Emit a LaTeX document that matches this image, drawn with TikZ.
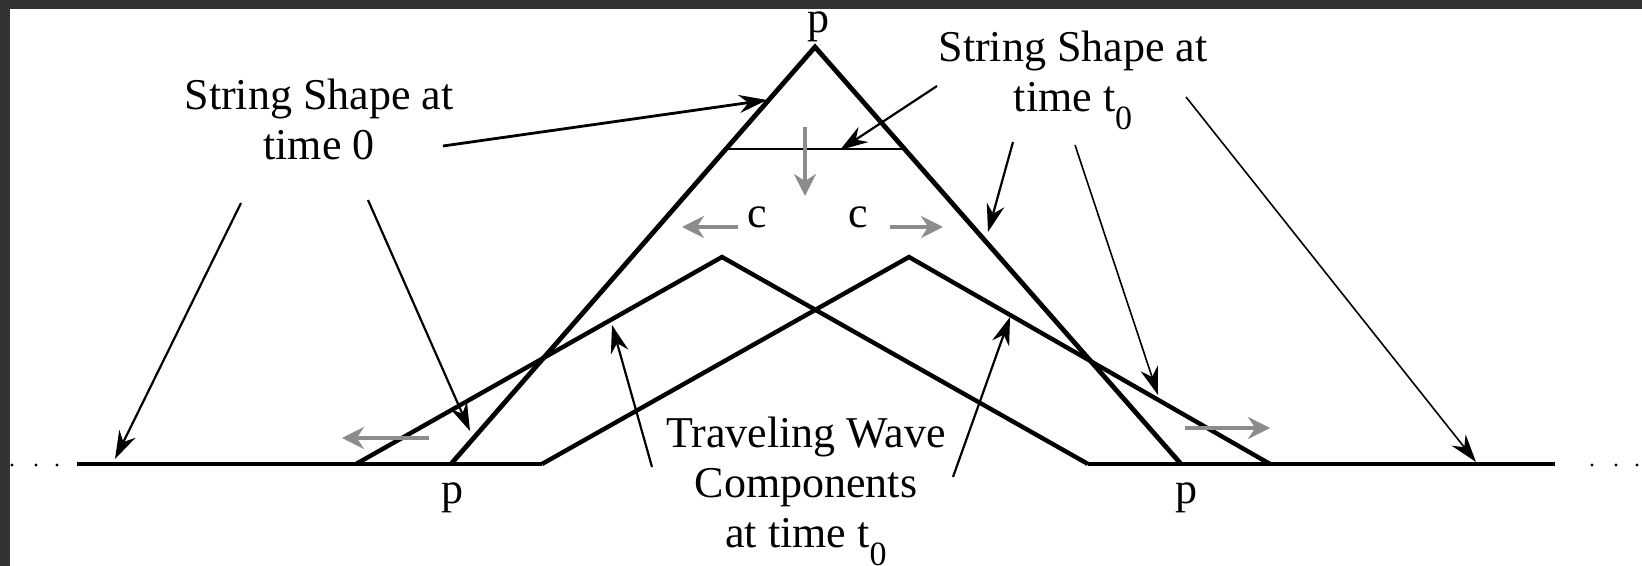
\documentclass[tikz,border=0pt]{standalone}
\usepackage{fontspec}
\setmainfont{Liberation Serif}
\usetikzlibrary{arrows.meta}

\definecolor{framegray}{RGB}{51,51,51}
\definecolor{speedgray}{RGB}{140,140,140}

\newcommand{\subnull}{\raisebox{-9pt}{\fontsize{17}{17}\selectfont 0}}

\begin{document}
\begin{tikzpicture}[
    x=0.5pt, y=-0.5pt,
    every node/.style={inner sep=0pt, font=\fontsize{22}{25}\selectfont},
    label_text/.style={align=center, anchor=base},
    string_line/.style={line width=2.4pt},
    wave_line/.style={line width=2.2pt},
    base_line/.style={line width=1.6pt},
    note_arrow/.style={-{Stealth[length=14pt, width=9pt]}, line width=1.1pt},
    thin_arrow/.style={note_arrow, line width=0.8pt},
    speed_arrow/.style={-{Stealth[length=11pt, width=11pt]}, draw=speedgray, line width=1.8pt},
]
    \useasboundingbox (0,0) rectangle (1642,566);
    \fill[framegray] (0,0) rectangle (1642,9);
    \fill[framegray] (0,0) rectangle (10,566);

    % string at time 0 and the two travelling halves
    \coordinate (top) at (815,47);
    \coordinate (bot_l) at (451,464);
    \coordinate (bot_r) at (1181,464);
    \coordinate (flat_l) at (726,149);
    \coordinate (flat_r) at (904,149);
    \coordinate (wl_a) at (356,464);
    \coordinate (wl_p) at (722,257);
    \coordinate (wl_b) at (1088,464);
    \coordinate (wr_a) at (542,464);
    \coordinate (wr_p) at (909,257);
    \coordinate (wr_b) at (1270,464);
    \coordinate (end_l) at (77,464);
    \coordinate (end_r) at (1555,464);

    \draw[base_line] (end_l) -- (wr_a);
    \draw[base_line] (wl_b) -- (end_r);
    \draw[string_line] (bot_l) -- (top) -- (bot_r);
    \draw[line width=1.4pt] (flat_l) -- (flat_r);
    \draw[wave_line] (wl_a) -- (wl_p) -- (wl_b);
    \draw[wave_line] (wr_a) -- (wr_p) -- (wr_b);

    \foreach \x in {12,36,57,1592,1616,1637}
        \fill (\x,465) circle[radius=0.8pt];

    % labels
    \node[anchor=base] (p_top) at (818,33) {p};
    \node[anchor=base] (p_left) at (452,503) {p};
    \node[anchor=base] (p_right) at (1186,503) {p};
    \node[anchor=base] (c_left) at (757,228) {c};
    \node[anchor=base] (c_right) at (858,228) {c};
    \node[label_text] (shape_zero) at (319,160) {String Shape at\\time 0};
    \node[label_text] (shape_t) at (1073,112) {String Shape at\\time t\subnull};
    \node[label_text] (waves) at (806,547) {Traveling Wave\\Components\\at time t\subnull};

    % pointers
    \coordinate (sz_1) at (443,146);  \coordinate (sz_1t) at (767,100);
    \coordinate (sz_2) at (241,203);  \coordinate (sz_2t) at (115,459);
    \coordinate (sz_3) at (368,200);  \coordinate (sz_3t) at (470,431);
    \coordinate (st_1) at (937,86);   \coordinate (st_1t) at (840,150);
    \coordinate (st_2) at (1013,142); \coordinate (st_2t) at (988,232);
    \coordinate (st_3) at (1075,145); \coordinate (st_3t) at (1158,395);
    \coordinate (st_4) at (1186,97);  \coordinate (st_4t) at (1476,462);
    \coordinate (tw_1) at (652,467);  \coordinate (tw_1t) at (612,325);
    \coordinate (tw_2) at (953,477);  \coordinate (tw_2t) at (1010,317);

    \draw[note_arrow, line width=1.4pt] (sz_1) -- (sz_1t);
    \draw[note_arrow] (sz_2) -- (sz_2t);
    \draw[note_arrow] (sz_3) -- (sz_3t);
    \draw[note_arrow] (st_1) -- (st_1t);
    \draw[note_arrow] (st_2) -- (st_2t);
    \draw[thin_arrow] (st_3) -- (st_3t);
    \draw[thin_arrow] (st_4) -- (st_4t);
    \draw[note_arrow] (tw_1) -- (tw_1t);
    \draw[note_arrow] (tw_2) -- (tw_2t);

    % wave speeds
    \coordinate (v_down) at (805,127);  \coordinate (v_downt) at (805,196);
    \coordinate (v_cl) at (738,227);    \coordinate (v_clt) at (682,227);
    \coordinate (v_cr) at (890,227);    \coordinate (v_crt) at (943,227);
    \coordinate (v_bl) at (429,438);    \coordinate (v_blt) at (342,438);
    \coordinate (v_br) at (1185,428);   \coordinate (v_brt) at (1270,428);

    \draw[speed_arrow] (v_down) -- (v_downt);
    \draw[speed_arrow] (v_cl) -- (v_clt);
    \draw[speed_arrow] (v_cr) -- (v_crt);
    \draw[speed_arrow] (v_bl) -- (v_blt);
    \draw[speed_arrow] (v_br) -- (v_brt);
\end{tikzpicture}
\end{document}
